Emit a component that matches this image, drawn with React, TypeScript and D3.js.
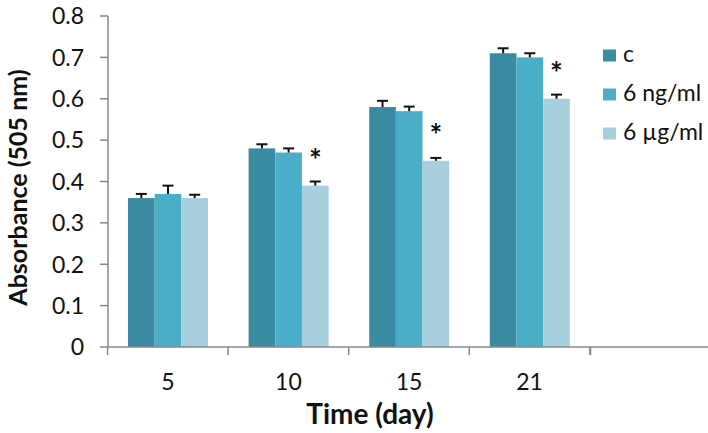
import React from "react";
import * as d3 from "d3";

const categories = ["5", "10", "15", "21", ""];
const seriesNames = ["c", "6 ng/ml", "6 µg/ml"];
const seriesColors = ["#3a8ba2", "#4aaec8", "#a8cfdd"];
const valuesC = [0.36, 0.48, 0.58, 0.71];
const valuesNg = [0.37, 0.47, 0.57, 0.70];
const valuesUg = [0.36, 0.39, 0.45, 0.60];
const errC = [0.01, 0.01, 0.015, 0.012];
const errNg = [0.02, 0.01, 0.011, 0.01];
const errUg = [0.008, 0.01, 0.007, 0.01];
const significant = [false, true, true, true];
const yTicks = [0, 0.1, 0.2, 0.3, 0.4, 0.5, 0.6, 0.7, 0.8];

const W = 708;
const H = 433;
const FONT = "Lato, 'Open Sans', sans-serif";

export default function App() {
  const y = d3.scaleLinear().domain([0, 0.8]).range([347, 16]);
  const x0 = d3.scaleBand().domain(categories).range([107.5, 710.5]).paddingInner(0).paddingOuter(0);
  const x1 = d3.scaleBand().domain(seriesNames).range([20.5, 100.5]).padding(0);
  const allValues = [valuesC, valuesNg, valuesUg];
  const allErr = [errC, errNg, errUg];
  const axisColor = "#888888";
  const bw = x1.bandwidth();

  return (
    <svg width={W} height={H} style={{ position: "absolute", left: 0, top: 0, background: "#fff" }} fontFamily={FONT}>
      <rect x={0} y={0} width={W} height={H} fill="#fff" />
      {/* bars */}
      {allValues.map((vals, si) =>
        vals.map((v, ci) => {
          const bx = (x0(categories[ci]) as number) + (x1(seriesNames[si]) as number);
          return (
            <rect key={`b${si}-${ci}`} x={bx} y={y(v)} width={bw} height={y(0) - y(v)} fill={seriesColors[si]} />
          );
        })
      )}
      {/* error bars */}
      {allValues.map((vals, si) =>
        vals.map((v, ci) => {
          const cx = (x0(categories[ci]) as number) + (x1(seriesNames[si]) as number) + bw / 2;
          const top = y(v + allErr[si][ci]);
          return (
            <g key={`e${si}-${ci}`} stroke="#111" strokeWidth={2}>
              <line x1={cx} x2={cx} y1={y(v)} y2={top} />
              <line x1={cx - 5.5} x2={cx + 5.5} y1={top} y2={top} />
            </g>
          );
        })
      )}
      {/* significance stars */}
      {valuesUg.map((v, ci) =>
        significant[ci] ? (
          <text
            key={`s${ci}`}
            x={(x0(categories[ci]) as number) + (x1(seriesNames[2]) as number) + bw / 2}
            y={y(v) - 30 + 15}
            textAnchor="middle"
            fontSize={30}
            fontWeight="bold"
            fill="#111"
          >
            *
          </text>
        ) : null
      )}
      {/* y axis */}
      <line x1={108} x2={108} y1={y(0.8)} y2={y(0)} stroke={axisColor} strokeWidth={1.5} />
      {yTicks.map((t) => (
        <g key={`yt${t}`}>
          <line x1={100} x2={108} y1={y(t)} y2={y(t)} stroke={axisColor} strokeWidth={1.5} />
          <text x={84} y={y(t)} dy="0.36em" textAnchor="end" fontSize={23} fill="#111">
            {t === 0 ? "0" : d3.format(".1f")(t)}
          </text>
        </g>
      ))}
      {/* x axis */}
      <line x1={107.5} x2={W} y1={y(0)} y2={y(0)} stroke={axisColor} strokeWidth={1.5} />
      {categories.map((c) => (
        <line
          key={`xt${c}`}
          x1={x0(c) as number}
          x2={x0(c) as number}
          y1={y(0)}
          y2={y(0) + 8}
          stroke={axisColor}
          strokeWidth={1.5}
        />
      ))}
      <line x1={590.5} x2={590.5} y1={y(0)} y2={y(0) + 8} stroke={axisColor} strokeWidth={1.5} />
      {categories.map((c) => (
        <text
          key={`xl${c}`}
          x={(x0(c) as number) + x0.bandwidth() / 2}
          y={390}
          textAnchor="middle"
          fontSize={23}
          fill="#111"
        >
          {c}
        </text>
      ))}
      {/* axis titles */}
      <text x={370} y={424} textAnchor="middle" fontSize={28} fontWeight="bold" fill="#111">
        Time (day)
      </text>
      <text
        transform={`translate(27, ${(y(0) + y(0.8)) / 2 + 6}) rotate(-90)`}
        textAnchor="middle"
        fontSize={25}
        fontWeight="bold"
        fill="#111"
      >
        Absorbance (505 nm)
      </text>
      {/* legend */}
      {seriesNames.map((s, i) => {
        const base = 61.5 + i * 39;
        return (
          <g key={`lg${i}`}>
            <rect x={603} y={base - 12} width={13} height={12} fill={seriesColors[i]} />
            <text x={623} y={base} fontSize={23} fill="#111">
              {s}
            </text>
          </g>
        );
      })}
    </svg>
  );
}
